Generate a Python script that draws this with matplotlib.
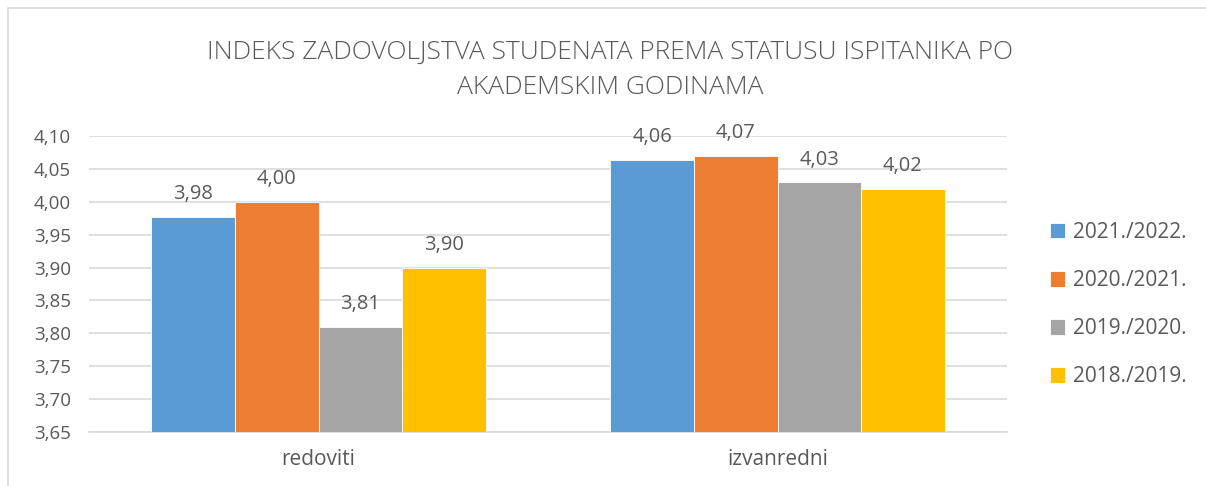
import matplotlib
matplotlib.use('Agg')
import matplotlib.pyplot as plt
import numpy as np
from matplotlib.patches import Rectangle

plt.rcParams['font.family'] = ['Open Sans', 'DejaVu Sans']

categories = ['redoviti', 'izvanredni']
years = ['2021./2022.', '2020./2021.', '2019./2020.', '2018./2019.']
values = {
    '2021./2022.': [3.977, 4.064],
    '2020./2021.': [4.00, 4.07],
    '2019./2020.': [3.81, 4.03],
    '2018./2019.': [3.90, 4.02],
}
colors = ['#5b9bd5', '#ed7d31', '#a5a5a5', '#ffc000']

TEXT = '#595959'
GRID = '#d9d9d9'

fig = plt.figure(figsize=(12.06, 4.86), dpi=100)
ax = fig.add_axes([89 / 1206, 1 - 432 / 486, 918 / 1206, 296 / 486])

x = np.arange(len(categories))
bw = 0.182
for i, (yr, c) in enumerate(zip(years, colors)):
    pos = x + (i - 1.5) * bw
    bars = ax.bar(pos, values[yr], width=bw, bottom=0, color=c, label=yr,
                  edgecolor='white', linewidth=0.6, zorder=3)
    for b, v in zip(bars, values[yr]):
        ax.text(b.get_x() + b.get_width() / 2, v + 0.019, f'{v:.2f}'.replace('.', ','),
                ha='center', va='bottom', fontsize=14.5, color=TEXT)

ax.set_ylim(3.65, 4.10)
ax.set_xlim(-0.5, 1.5)
yt = np.arange(3.65, 4.1001, 0.05)
ax.set_yticks(yt)
ax.set_yticklabels([f'{t:.2f}'.replace('.', ',') for t in yt])
ax.set_xticks(x)
ax.set_xticklabels(categories)
ax.tick_params(axis='both', length=0, labelcolor=TEXT)
ax.tick_params(axis='y', pad=13, labelsize=13.5)
ax.tick_params(axis='x', pad=12, labelsize=15)
ax.yaxis.grid(True, color=GRID, linewidth=1.2, zorder=0)
for sp in ax.spines.values():
    sp.set_visible(False)
ax.spines['bottom'].set_visible(True)
ax.spines['bottom'].set_color(GRID)
ax.spines['bottom'].set_linewidth(1.2)

fig.text(0.506, 1 - 52 / 486, 'INDEKS ZADOVOLJSTVA STUDENATA PREMA STATUSU ISPITANIKA PO',
         ha='center', va='center', fontsize=19, color=TEXT, fontweight='light')
fig.text(0.506, 1 - 87 / 486, 'AKADEMSKIM GODINAMA',
         ha='center', va='center', fontsize=19, color=TEXT, fontweight='light')

leg = ax.legend(loc='center left', bbox_to_anchor=(1.026, 0.43), frameon=False,
                fontsize=15, labelcolor=TEXT, handlelength=0.75, handleheight=0.75,
                handletextpad=0.35, labelspacing=1.3)

# chart frame
fig.patches.append(Rectangle((8 / 1206, -0.02), 1.2, 1 - 8 / 486 + 0.02,
                             transform=fig.transFigure, fill=False,
                             edgecolor=GRID, linewidth=1.2))

fig.savefig('out.png', dpi=100, facecolor='white')
